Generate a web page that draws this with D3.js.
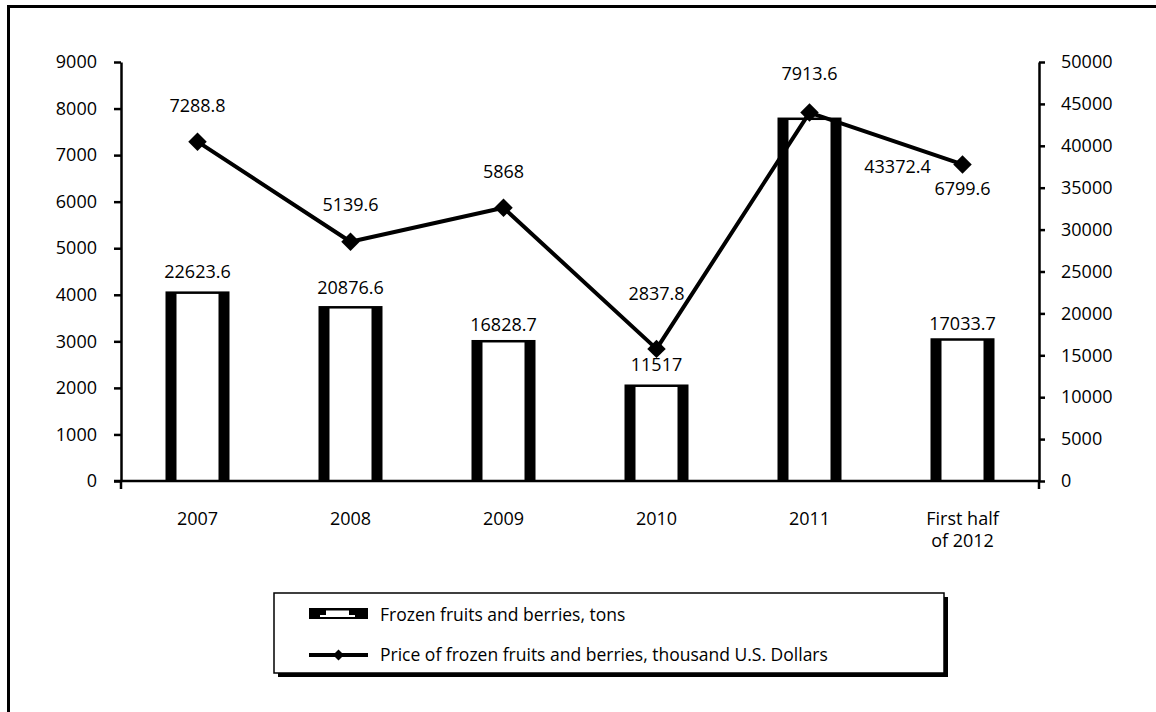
<!DOCTYPE html>
<html>
<head>
<meta charset="utf-8">
<script src="https://cdn.jsdelivr.net/npm/d3@7"></script>
<style>
  html, body { margin: 0; padding: 0; background: #fff; }
  svg { display: block; }
  text { font-family: "Open Sans", sans-serif; fill: #000; }
</style>
</head>
<body>
<svg id="chart" width="1156" height="712"></svg>
<script>
// Categories and series
const categories = ["2007", "2008", "2009", "2010", "2011", "First half of 2012"];
const tonsValues = [22623.6, 20876.6, 16828.7, 11517, 43372.4, 17033.7];   // bars, right axis
const priceValues = [7288.8, 5139.6, 5868, 2837.8, 7913.6, 6799.6];       // line, left axis
const leftTicks = [0, 1000, 2000, 3000, 4000, 5000, 6000, 7000, 8000, 9000];
const rightTicks = [0, 5000, 10000, 15000, 20000, 25000, 30000, 35000, 40000, 45000, 50000];
const tonsLabels = ["22623.6", "20876.6", "16828.7", "11517", "43372.4", "17033.7"];
const priceLabels = ["7288.8", "5139.6", "5868", "2837.8", "7913.6", "6799.6"];

// Label placement (offsets from the mark, in px)
const priceLabelDy = [-37, -38, -37, -56, -40, 24];
const priceLabelDx = [0, 0, 0, 0, 0, 0];
const tonsLabelDx = [0, 0, 0, 0, 88, 0];
const tonsLabelDy = [-20, -19, -16, -20, 48, -15];

const numFont = "18px";
const legendFont = "17.5px";

const svg = d3.select("#chart");

// Outer frame (runs off right and bottom)
svg.append("path")
  .attr("d", "M8.5,712 V6.5 H1156")
  .attr("fill", "none").attr("stroke", "#000").attr("stroke-width", 3);

const plot = { left: 121, right: 1039, top: 62, bottom: 481 };

const x = d3.scaleBand().domain(categories).range([plot.left, plot.right]);
const yLeft = d3.scaleLinear().domain([0, 9000]).range([plot.bottom, plot.top]);
const yRight = d3.scaleLinear().domain([0, 50000]).range([plot.bottom, plot.top]);

const barW = 64, sideW = 11, topW = 2.5;

// Bars
const bars = svg.append("g");
categories.forEach((c, i) => {
  const cx = x(c) + x.bandwidth() / 2;
  const y0 = yRight(tonsValues[i]);
  const h = plot.bottom - y0;
  bars.append("rect")
    .attr("x", cx - barW / 2).attr("y", y0)
    .attr("width", barW).attr("height", h)
    .attr("fill", "#000");
  bars.append("rect")
    .attr("x", cx - barW / 2 + sideW).attr("y", y0 + topW)
    .attr("width", barW - 2 * sideW).attr("height", Math.max(0, h - topW))
    .attr("fill", "#fff");
});

// Axes
const axisStyle = g => {
  g.selectAll(".domain").attr("stroke", "#000").attr("stroke-width", 2.5);
  g.selectAll(".tick line").attr("stroke", "#000").attr("stroke-width", 2.5);
  g.selectAll(".tick text").style("font-size", numFont).style("font-family", "'Open Sans', sans-serif");
};

svg.append("g")
  .attr("transform", `translate(${plot.left},0)`)
  .call(d3.axisLeft(yLeft).tickValues(leftTicks).tickSize(7).tickSizeOuter(0).tickPadding(17).tickFormat(d3.format("d")))
  .call(axisStyle);

svg.append("g")
  .attr("transform", `translate(${plot.right},0)`)
  .call(d3.axisRight(yRight).tickValues(rightTicks).tickSize(6).tickSizeOuter(0).tickPadding(16).tickFormat(d3.format("d")))
  .call(axisStyle);

// Category axis
const xAxis = svg.append("g");
xAxis.append("line")
  .attr("x1", plot.left - 7).attr("x2", plot.right)
  .attr("y1", plot.bottom).attr("y2", plot.bottom)
  .attr("stroke", "#000").attr("stroke-width", 2.5);
[plot.left, plot.right].forEach(px => {
  xAxis.append("line")
    .attr("x1", px).attr("x2", px)
    .attr("y1", plot.bottom).attr("y2", plot.bottom + 8)
    .attr("stroke", "#000").attr("stroke-width", 2.5);
});
categories.forEach(c => {
  const cx = x(c) + x.bandwidth() / 2;
  const t = xAxis.append("text")
    .attr("x", cx).attr("y", 525)
    .attr("text-anchor", "middle")
    .style("font-size", numFont);
  const lines = c === "First half of 2012" ? ["First half", "of 2012"] : [c];
  lines.forEach((ln, k) => {
    t.append("tspan").attr("x", cx).attr("dy", k === 0 ? 0 : 22).text(ln);
  });
});

// Line series
const pts = categories.map((c, i) => [x(c) + x.bandwidth() / 2, yLeft(priceValues[i])]);
svg.append("path")
  .attr("d", d3.line()(pts))
  .attr("fill", "none").attr("stroke", "#000").attr("stroke-width", 4)
  .attr("stroke-linejoin", "round");

const diamond = d3.symbol().type(d3.symbolSquare).size(170);
svg.append("g").selectAll("path")
  .data(pts).join("path")
  .attr("d", diamond())
  .attr("transform", d => `translate(${d[0]},${d[1]}) rotate(45)`)
  .attr("fill", "#000");

// Value labels
const labels = svg.append("g").style("font-size", numFont);
categories.forEach((c, i) => {
  const cx = x(c) + x.bandwidth() / 2;
  labels.append("text")
    .attr("x", cx + priceLabelDx[i])
    .attr("y", yLeft(priceValues[i]) + priceLabelDy[i])
    .attr("text-anchor", "middle").attr("dominant-baseline", "central")
    .text(priceLabels[i]);
  labels.append("text")
    .attr("x", cx + tonsLabelDx[i])
    .attr("y", yRight(tonsValues[i]) + tonsLabelDy[i])
    .attr("text-anchor", "middle").attr("dominant-baseline", "central")
    .text(tonsLabels[i]);
});

// Legend
const lg = svg.append("g");
const box = { x: 274, y: 593, w: 670, h: 80 };
lg.append("rect")
  .attr("x", box.x + 4).attr("y", box.y + 4)
  .attr("width", box.w).attr("height", box.h)
  .attr("fill", "#000");
lg.append("rect")
  .attr("x", box.x).attr("y", box.y)
  .attr("width", box.w).attr("height", box.h)
  .attr("fill", "#fff").attr("stroke", "#000").attr("stroke-width", 1.5);

// bar swatch
lg.append("rect").attr("x", 309).attr("y", 608).attr("width", 59).attr("height", 11).attr("fill", "#000");
lg.append("rect").attr("x", 326).attr("y", 610.5).attr("width", 23).attr("height", 6).attr("fill", "#fff");
lg.append("rect").attr("x", 320).attr("y", 615).attr("width", 35).attr("height", 2).attr("fill", "#fff");
lg.append("text").attr("x", 380).attr("y", 614).attr("dominant-baseline", "central")
  .style("font-size", legendFont).text("Frozen fruits and berries, tons");

// line swatch
lg.append("line").attr("x1", 309).attr("x2", 368).attr("y1", 655).attr("y2", 655)
  .attr("stroke", "#000").attr("stroke-width", 4);
lg.append("path").attr("d", d3.symbol().type(d3.symbolSquare).size(60)())
  .attr("transform", "translate(338.5,655) rotate(45)").attr("fill", "#000");
lg.append("text").attr("x", 380).attr("y", 654).attr("dominant-baseline", "central")
  .style("font-size", legendFont).text("Price of frozen fruits and berries, thousand U.S. Dollars");
</script>
</body>
</html>
